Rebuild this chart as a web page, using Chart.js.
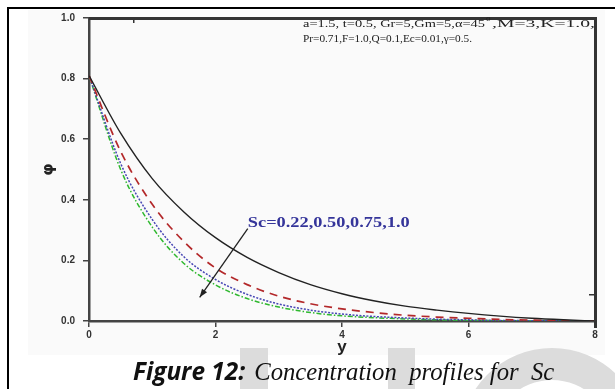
<!DOCTYPE html>
<html>
<head>
<meta charset="utf-8">
<script src="https://cdn.jsdelivr.net/npm/chart.js@4/dist/chart.umd.min.js"></script>
<style>
  html, body { margin: 0; padding: 0; background: #fff; }
  #wrap { width: 615px; height: 389px; }
</style>
</head>
<body>
<div id="wrap"><canvas id="concChart" width="615" height="389"></canvas></div>
<script>
// y positions along the plate
const yPos = [0, 0.5, 1, 1.5, 2, 2.5, 3, 3.5, 4, 4.5, 5, 5.5, 6, 6.5, 7, 7.5, 8];

// concentration phi for each Sc
const phiSc022 = [0.81, 0.62, 0.47, 0.36, 0.275, 0.21, 0.16, 0.12, 0.09, 0.067, 0.049, 0.036, 0.025, 0.016, 0.009, 0.004, 0];
const phiSc050 = [0.81, 0.56, 0.385, 0.262, 0.175, 0.12, 0.082, 0.057, 0.04, 0.028, 0.019, 0.013, 0.009, 0.005, 0.003, 0.001, 0];
const phiSc075 = [0.81, 0.52, 0.335, 0.212, 0.137, 0.088, 0.056, 0.036, 0.023, 0.015, 0.01, 0.006, 0.004, 0.002, 0.001, 0.0005, 0];
const phiSc100 = [0.81, 0.50, 0.31, 0.19, 0.119, 0.074, 0.046, 0.028, 0.017, 0.011, 0.007, 0.004, 0.002, 0.001, 0.0005, 0.0002, 0];

const xTicks = [0, 2, 4, 6, 8];
const yTicks = [0, 0.2, 0.4, 0.6, 0.8, 1.0];

const paramLine1a = "a=1.5, t=0.5, Gr=5,Gm=5,\u03b1=45";
const paramLine1b = ",M=3,K=1.0,";
const paramLine2 = "Pr=0.71,F=1.0,Q=0.1,Ec=0.01,\u03b3=0.5.";
const scLabel = "Sc=0.22,0.50,0.75,1.0";
// arrow in data units: from (x, phi) to (x, phi)
const arrowFrom = [2.51, 0.305];
const arrowTo = [1.75, 0.078];
const scLabelAt = [2.51, 0.324];

function pts(vals) {
    return yPos.map((x, i) => ({ x: x, y: vals[i] }));
}

// draw text squeezed/stretched to a given width
function fitText(c, text, x, y, w) {
    const m = c.measureText(text).width;
    c.save();
    c.translate(x, y);
    c.scale(w / m, 1);
    c.fillText(text, 0, 0);
    c.restore();
}

const bgPlugin = {
    id: "bgPlugin",
    beforeDraw(chart) {
        const c = chart.ctx;
        c.save();
        c.fillStyle = "#ffffff";
        c.fillRect(0, 0, chart.width, chart.height);
        c.fillStyle = "#fafafa";
        c.fillRect(28, 10, 577, 345);
        // faint watermark
        c.fillStyle = "#dcdcdc";
        c.fillRect(240, 348, 28, 45);
        c.fillRect(388, 348, 27, 45);
        c.beginPath();
        c.arc(552, 440, 92, 0, Math.PI * 2);
        c.arc(552, 440, 60, 0, Math.PI * 2, true);
        c.fill();
        // page frame
        c.fillStyle = "#000";
        c.fillRect(7, 7, 2, chart.height - 7);
        c.fillRect(7, 7, chart.width - 7, 2);
        c.restore();
    },
    afterDraw(chart) {
        const c = chart.ctx;
        const a = chart.chartArea;
        const xs = chart.scales.x;
        const ys = chart.scales.y;
        const L = Math.round(a.left), T = Math.round(a.top);
        const R = Math.round(a.right), B = Math.round(a.bottom);
        c.save();

        // top and right frame of the plot box, with the odd stray ticks
        c.fillStyle = "#333333";
        c.fillRect(L, T - 1, R - L + 2, 3);
        c.fillRect(R - 1, T - 1, 3, B - T + 8);
        c.fillRect(Math.round(xs.getPixelForValue(0.7)), T, 1.5, 5);
        c.fillRect(R - 6, Math.round(ys.getPixelForValue(0.09)), 6, 1.5);

        // parameter text
        c.fillStyle = "#222";
        c.textBaseline = "middle";
        c.font = "10px 'Liberation Serif', 'Times New Roman', serif";
        fitText(c, paramLine1a, 303, 24, 182);
        fitText(c, paramLine1b, 492, 24, 103);
        fitText(c, paramLine2, 303, 39, 169);
        c.font = "9px 'Liberation Serif', serif";
        c.fillText("o", 486, 19);

        // Sc label and arrow
        c.fillStyle = "#35359a";
        c.font = "bold 15px 'Liberation Serif', 'Times New Roman', serif";
        fitText(c, scLabel, xs.getPixelForValue(scLabelAt[0]), ys.getPixelForValue(scLabelAt[1]), 162);

        const x1 = xs.getPixelForValue(arrowFrom[0]), y1 = ys.getPixelForValue(arrowFrom[1]);
        const x2 = xs.getPixelForValue(arrowTo[0]), y2 = ys.getPixelForValue(arrowTo[1]);
        c.strokeStyle = "#222";
        c.lineWidth = 1.3;
        c.beginPath();
        c.moveTo(x1, y1);
        c.lineTo(x2, y2);
        c.stroke();
        const ang = Math.atan2(y2 - y1, x2 - x1);
        c.fillStyle = "#222";
        c.beginPath();
        c.moveTo(x2, y2);
        c.lineTo(x2 - 9 * Math.cos(ang - 0.35), y2 - 9 * Math.sin(ang - 0.35));
        c.lineTo(x2 - 9 * Math.cos(ang + 0.35), y2 - 9 * Math.sin(ang + 0.35));
        c.closePath();
        c.fill();

        // caption
        c.fillStyle = "#111";
        c.textBaseline = "alphabetic";
        const baseY = 380;
        c.font = "italic bold 20px 'Open Sans', 'Liberation Sans', sans-serif";
        const w1 = c.measureText("Figure 12:").width;
        c.font = "italic bold " + (20 * 112 / w1).toFixed(1) + "px 'Open Sans', 'Liberation Sans', sans-serif";
        c.fillText("Figure 12:", 133, baseY);
        const p2 = " Concentration  profiles for  Sc";
        c.font = "italic 20px 'Liberation Serif', serif";
        const w2 = c.measureText(p2).width;
        c.font = "italic " + (20 * 306 / w2).toFixed(1) + "px 'Liberation Serif', serif";
        c.fillText(p2, 248, baseY);
        c.restore();
    }
};

const ctx = document.getElementById("concChart").getContext("2d");

const chart = new Chart(ctx, {
    type: "line",
    data: {
        datasets: [
            { label: "Sc=0.22", data: pts(phiSc022), borderColor: "#222222", borderWidth: 1.4 },
            { label: "Sc=0.50", data: pts(phiSc050), borderColor: "#b3282a", borderWidth: 1.7, borderDash: [8, 6] },
            { label: "Sc=0.75", data: pts(phiSc075), borderColor: "#4646b4", borderWidth: 1.5, borderDash: [2, 1.5] },
            { label: "Sc=1.0", data: pts(phiSc100), borderColor: "#2fb82f", borderWidth: 1.5, borderDash: [5, 2, 1.5, 2] }
        ]
    },
    options: {
        responsive: false,
        animation: false,
        elements: { point: { radius: 0 }, line: { cubicInterpolationMode: "monotone", fill: false } },
        layout: { padding: { left: 8, right: 20, top: 18, bottom: 28 } },
        plugins: { legend: { display: false }, tooltip: { enabled: false } },
        scales: {
            x: {
                type: "linear",
                min: 0,
                max: 8,
                afterBuildTicks: s => { s.ticks = xTicks.map(v => ({ value: v })); },
                afterFit: s => { s.height = 40; },
                grid: { display: true, drawOnChartArea: false, drawTicks: true, tickLength: 6, color: "#444", lineWidth: 1.5 },
                border: { display: true, color: "#444", width: 2.5 },
                ticks: { color: "#333", font: { family: "'Liberation Sans', Arial, sans-serif", size: 10, weight: "bold" }, padding: 2, maxRotation: 0 },
                title: { display: true, text: "y", color: "#222", font: { family: "'Liberation Sans', Arial, sans-serif", size: 17, weight: "bold" }, padding: { top: 0, bottom: 3 } }
            },
            y: {
                min: 0,
                max: 1.0,
                afterBuildTicks: s => { s.ticks = yTicks.map(v => ({ value: v })); },
                afterFit: s => { s.width = 81; },
                grid: { display: true, drawOnChartArea: false, drawTicks: true, tickLength: 6, color: "#444", lineWidth: 1.5 },
                border: { display: true, color: "#444", width: 2.5 },
                ticks: { color: "#333", font: { family: "'Liberation Sans', Arial, sans-serif", size: 10, weight: "bold" }, padding: 8, callback: v => v.toFixed(1) },
                title: { display: true, text: "\u03c6", color: "#222", font: { family: "'DejaVu Sans', sans-serif", size: 16, weight: "bold" }, padding: { top: 31, bottom: 0 } }
            }
        }
    },
    plugins: [bgPlugin]
});
</script>
</body>
</html>
